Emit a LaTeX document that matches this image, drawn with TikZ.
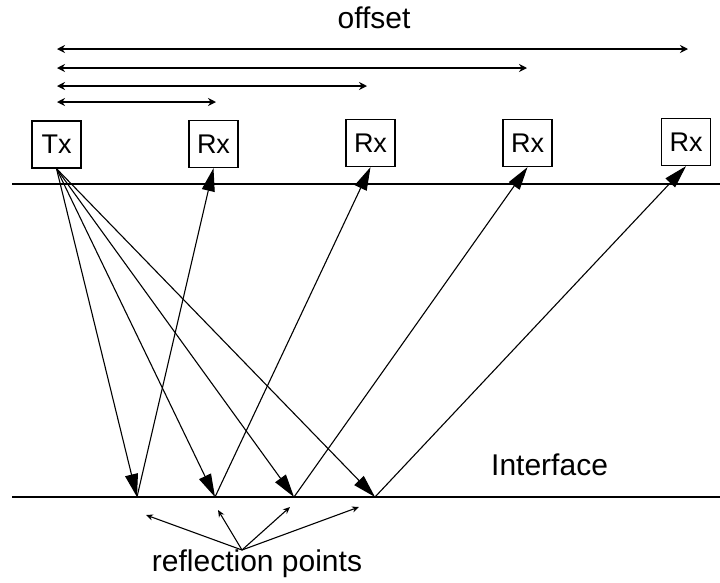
\documentclass[tikz,border=0pt]{standalone}
\usepackage{fontspec}
\setmainfont{Liberation Sans}
\usetikzlibrary{arrows.meta}
\begin{document}
\begin{tikzpicture}[x=1pt,y=-1pt,
  boxnode/.style={draw,line width=1.3pt,minimum width=49pt,minimum height=47pt,inner sep=0pt,font=\fontsize{27}{30}\selectfont},
  lbl/.style={inner sep=0pt,font=\fontsize{30}{36}\selectfont},
  ground/.style={line width=1.5pt},
  ray/.style={line width=1.1pt,-{Triangle[length=23pt,width=13pt]}},
  offarrow/.style={line width=2pt,{Stealth[length=8pt,width=8pt]}-{Stealth[length=8pt,width=8pt]}},
  pointer/.style={line width=1.1pt,-{Stealth[length=7pt,width=6pt,open]}}]
\useasboundingbox (0,0) rectangle (720,582);
% boxes
\node[boxnode] (tx) at (56.5,144.5) {Tx};
\node[boxnode] (rx1) at (213.5,144) {Rx};
\node[boxnode] (rx2) at (370.5,143) {Rx};
\node[boxnode] (rx3) at (527.5,143) {Rx};
\node[boxnode] (rx4) at (686,142) {Rx};
% surface and interface
\coordinate (sL) at (12,184);
\coordinate (sR) at (720,184);
\coordinate (iL) at (12,497);
\coordinate (iR) at (720,497);
\draw[ground] (sL) -- (sR);
\draw[ground] (iL) -- (iR);
% reflection points
\coordinate (p1) at (137,497);
\coordinate (p2) at (215,497);
\coordinate (p3) at (294,497);
\coordinate (p4) at (375,497);
% rays
\foreach \p in {p1,p2,p3,p4} \draw[ray] (tx.south) -- (\p);
\draw[ray] (p1) -- (rx1.south);
\draw[ray] (p2) -- (rx2.south);
\draw[ray] (p3) -- (rx3.south);
\draw[ray] (p4) -- (rx4.south);
% offset arrows
\coordinate (a0) at (57,49);
\coordinate (a1) at (688,49);
\coordinate (b0) at (57,68);
\coordinate (b1) at (527,68);
\coordinate (c0) at (57,86);
\coordinate (c1) at (367,86);
\coordinate (d0) at (57,102);
\coordinate (d1) at (216,102);
\draw[offarrow] (a0) -- (a1);
\draw[offarrow] (b0) -- (b1);
\draw[offarrow] (c0) -- (c1);
\draw[offarrow] (d0) -- (d1);
% labels
\node[lbl,anchor=base] (off) at (374,28) {offset};
\node[lbl,anchor=base west] (intf) at (491,475) {Interface};
\node[lbl,anchor=base] (refl) at (257,571) {reflection points};
% pointers
\coordinate (q) at (242,550);
\coordinate (t1) at (146,515);
\coordinate (t2) at (218,510);
\coordinate (t3) at (290,507);
\coordinate (t4) at (359,507);
\foreach \t in {t1,t2,t3,t4} \draw[pointer] (q) -- (\t);
\end{tikzpicture}
\end{document}
